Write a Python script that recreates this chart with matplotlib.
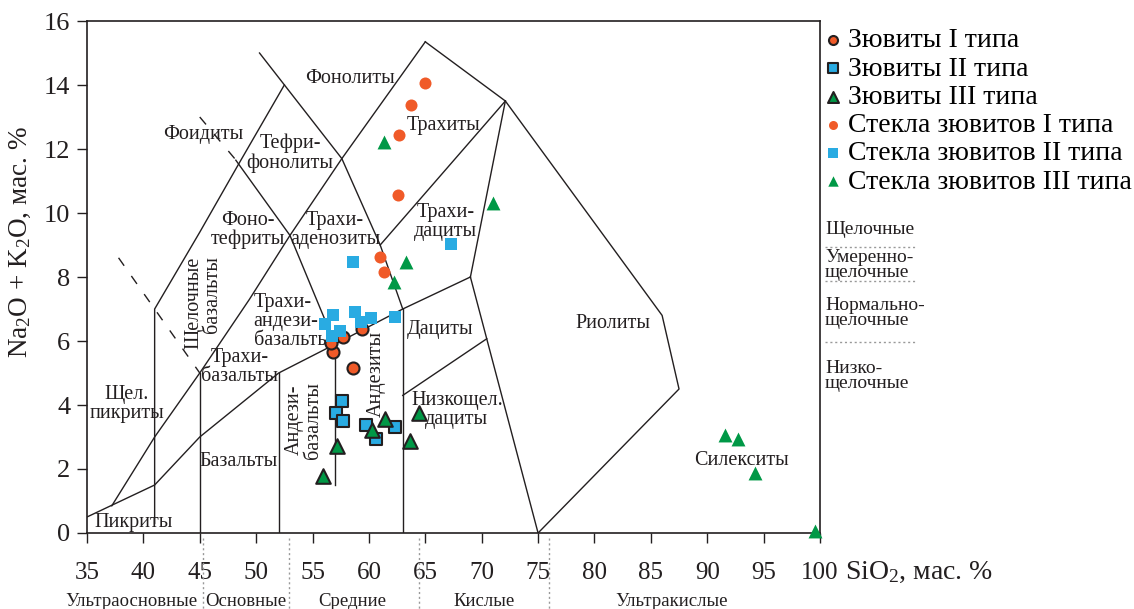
import numpy as np
import matplotlib
matplotlib.use('Agg')
import matplotlib.pyplot as plt

plt.rcParams['font.family'] = ['Liberation Serif', 'DejaVu Serif']
plt.rcParams['mathtext.fontset'] = 'custom'
plt.rcParams['mathtext.rm'] = 'Liberation Serif'
plt.rcParams['mathtext.it'] = 'Liberation Serif:italic'

# --- samples: SiO2, Na2O+K2O (wt %) ---
suev1_si = [56.8, 56.6, 57.7, 59.4, 58.6]
suev1_alk = [5.67, 5.93, 6.13, 6.37, 5.15]

suev2_si = [57.65, 57.1, 57.7, 59.7, 62.3, 60.65]
suev2_alk = [4.11, 3.76, 3.51, 3.38, 3.31, 2.94]

suev3_si = [57.2, 55.95, 60.25, 61.45, 64.45, 63.6]
suev3_alk = [2.72, 1.78, 3.21, 3.55, 3.75, 2.89]

glass1_si = [65.0, 63.7, 62.7, 62.6, 61.0, 61.3]
glass1_alk = [14.05, 13.38, 12.44, 10.56, 8.63, 8.17]

glass2_si = [58.6, 67.3, 56.8, 58.75, 60.2, 62.3, 56.15, 57.4, 59.3, 56.7]
glass2_alk = [8.46, 9.02, 6.8, 6.91, 6.73, 6.76, 6.54, 6.31, 6.6, 6.17]

glass3_si = [61.3, 63.3, 62.2, 71.0, 91.55, 92.7, 94.2, 99.6]
glass3_alk = [12.23, 8.48, 7.85, 10.3, 3.06, 2.93, 1.87, 0.05]

c_orange = '#f05a28'
c_blue = '#29abe2'
c_green = '#009846'
c_line = '#231f20'

# --- TAS field boundaries ---
boundaries = [
    [(35, 0.5), (41, 1.5), (45, 3), (52, 5), (57, 5.9), (63, 7), (69, 8)],
    [(37.2, 0.85), (41, 3), (45, 5), (49.4, 7.3), (53, 9.3), (57.6, 11.7), (65, 15.35)],
    [(41, 0.3), (41, 7), (45, 9.4), (48.4, 11.5), (52.5, 14)],
    [(50.3, 15), (57.6, 11.7), (61, 9), (63, 7)],
    [(48.2, 11.65), (53, 9.3), (57, 5.9)],
    [(45, 0), (45, 5)],
    [(52, 0), (52, 5)],
    [(57, 1.5), (57, 5.9)],
    [(63, 0), (63, 7)],
    [(61, 9), (72.1, 13.5)],
    [(65, 15.35), (72.1, 13.5), (86, 6.8), (87.5, 4.5), (75, 0)],
    [(69, 8), (72.1, 13.5)],
    [(69, 8), (75, 0)],
    [(63, 4.3), (70.45, 6.07)],
]
dashed = [
    [(37.8, 8.6), (45, 5)],
    [(45, 13.0), (48.1, 11.7)],
]

fig = plt.figure(figsize=(11.34, 6.09), dpi=100)
ax = fig.add_axes([0.0767, 0.1248, 0.6464, 0.8407])

for b in boundaries:
    b = np.array(b)
    ax.plot(b[:, 0], b[:, 1], color=c_line, lw=1.0, zorder=2)
for b in dashed:
    b = np.array(b)
    ax.plot(b[:, 0], b[:, 1], color=c_line, lw=1.0, ls=(0, (7, 9)), zorder=2)

# field names
fs = 14.5
fields = [
    (58.3, 14.2, 'Фонолиты', 0),
    (45.35, 12.44, 'Фоидиты', 0),
    (53.0, 11.86, 'Тефри-\nфонолиты', 0),
    (49.27, 9.47, 'Фоно-\nтефриты', 0),
    (57.0, 9.48, 'Трахи-\nаденозиты', 0),
    (66.6, 12.75, 'Трахиты', 0),
    (66.77, 9.73, 'Трахи-\nдациты', 0),
    (48.56, 5.19, 'Трахи-\nбазальты', 0),
    (38.55, 4.03, 'Щел.\nпикриты', 0),
    (48.47, 2.23, 'Базальты', 0),
    (60.64, 4.97, 'Андезиты', 90),
    (66.3, 6.36, 'Дациты', 0),
    (67.8, 3.83, 'Низкощел.\nдациты', 0),
    (39.15, 0.32, 'Пикриты', 0),
    (81.6, 6.55, 'Риолиты', 0),
    (93.0, 2.28, 'Силекситы', 0),
]
for x, y, s, r in fields:
    ax.text(x, y, s, fontsize=fs, ha='center', va='center', rotation=r,
            linespacing=1.0, color=c_line, zorder=3)
ax.text(49.77, 6.62, 'Трахи-\nандези-\nбазальты', fontsize=fs, ha='left',
        va='center', linespacing=1.0, color=c_line, zorder=3)
ax.text(45.3, 7.2, 'Щелочные\nбазальты', fontsize=fs, ha='center', va='center',
        rotation=90, multialignment='right', linespacing=1.0, color=c_line, zorder=3)
ax.text(54.25, 3.53, 'Андези-\nбазальты', fontsize=fs, ha='center', va='center',
        rotation=90, multialignment='center', linespacing=1.0, color=c_line, zorder=3)

# samples
ax.scatter(suev1_si, suev1_alk, s=75, marker='o', color=c_orange, edgecolor=c_line,
           linewidth=1.5, zorder=5, label='Зювиты I типа')
ax.scatter(suev2_si, suev2_alk, s=80, marker='s', color=c_blue, edgecolor=c_line,
           linewidth=1.5, zorder=5, label='Зювиты II типа')
ax.scatter(suev3_si, suev3_alk, s=110, marker='^', color=c_green, edgecolor=c_line,
           linewidth=1.5, zorder=5, label='Зювиты III типа')
ax.scatter(glass1_si, glass1_alk, s=75, marker='o', color=c_orange, linewidth=0,
           zorder=5, label='Стекла зювитов I типа')
ax.scatter(glass2_si, glass2_alk, s=75, marker='s', color=c_blue, linewidth=0,
           zorder=5, label='Стекла зювитов II типа')
ax.scatter(glass3_si, glass3_alk, s=100, marker='^', color=c_green, linewidth=0,
           zorder=5, label='Стекла зювитов III типа', clip_on=False)

ax.set_xlim(35, 100)
ax.set_ylim(0, 16)
ax.set_xticks(np.arange(35, 101, 5))
ax.set_yticks(np.arange(0, 17, 2))
ax.tick_params(direction='out', length=7, width=1.0, color=c_line, labelcolor=c_line)
ax.tick_params(axis='x', pad=14, labelsize=18)
ax.tick_params(axis='y', pad=5, labelsize=19)
for sp in ax.spines.values():
    sp.set_linewidth(1.2)
    sp.set_color(c_line)

fig.text(20 / 1134, 1 - 242 / 609, r'Na$_2$O + K$_2$O, мас. $\mathit{\%}$', fontsize=19.5,
         rotation=90, ha='center', va='center', color=c_line)
fig.text(845 / 1134, 1 - 572 / 609, r'SiO$_2$, мас. $\mathit{\%}$', fontsize=20,
         ha='left', va='center', color=c_line)

# acidity groups under the x axis
groups = ['Ультраосновные', 'Основные', 'Средние', 'Кислые', 'Ультракислые']
group_x = [38.95, 49.1, 58.55, 70.2, 86.8]
group_sep = [45.3, 52.9, 64.4, 76.0]
for gx, g in zip(group_x, groups):
    ax.text(gx, -2.15, g, fontsize=13.5, ha='center', va='center', clip_on=False,
            color=c_line)
for sx in group_sep:
    ax.plot([sx, sx], [-0.15, -2.4], color='#999999', lw=1.0, ls=(0, (1.5, 2)),
            clip_on=False)

# alkalinity series on the right
fs_side = 14
fig.text(825 / 1134, 1 - 230 / 609, 'Щелочные', fontsize=fs_side, ha='left',
         va='center', color=c_line)
fig.text(825 / 1134, 1 - 265 / 609, 'Умеренно-\nщелочные', fontsize=fs_side, ha='left',
         va='center', linespacing=0.85, color=c_line)
fig.text(825 / 1134, 1 - 313 / 609, 'Нормально-\nщелочные', fontsize=fs_side, ha='left',
         va='center', linespacing=0.85, color=c_line)
fig.text(825 / 1134, 1 - 376 / 609, 'Низко-\nщелочные', fontsize=fs_side, ha='left',
         va='center', linespacing=0.85, color=c_line)
for py in [247, 281.5, 341.5]:
    fig.add_artist(plt.Line2D([825 / 1134, 915 / 1134], [1 - py / 609, 1 - py / 609],
                              color='#999999', lw=1.0, ls=(0, (1.5, 2))))

ax.legend(loc='upper left', bbox_to_anchor=(820 / 1134, 1 - 28 / 609),
          bbox_transform=fig.transFigure, frameon=False, fontsize=20,
          handletextpad=0.1, handlelength=0.9, labelspacing=0.1, markerscale=0.75,
          borderaxespad=0, borderpad=0)

fig.savefig('out.png', dpi=100)
